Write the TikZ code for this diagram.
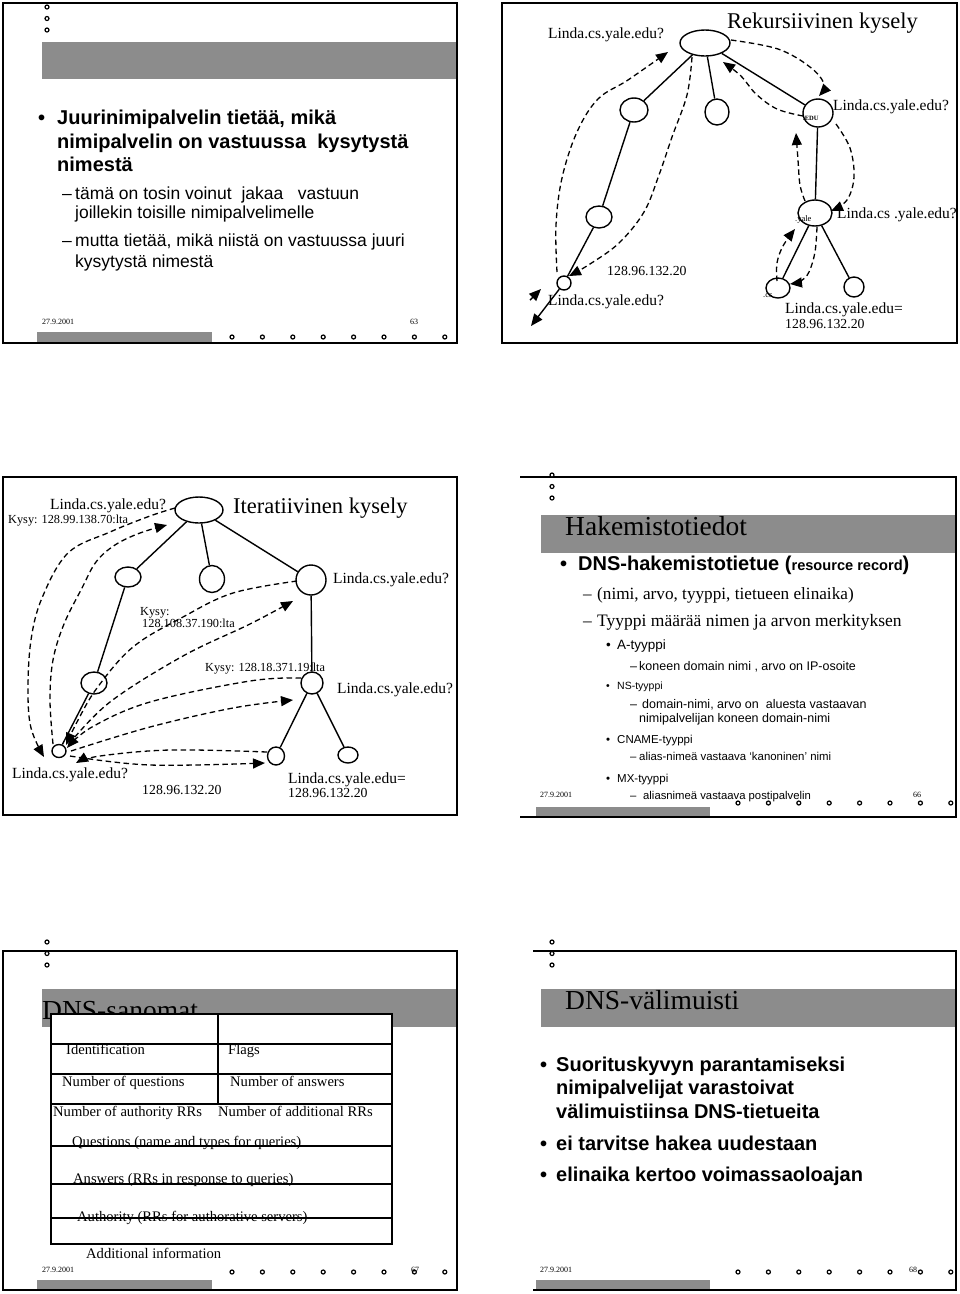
\documentclass[tikz,border=0pt]{standalone}
\usepackage{fontspec}
\setmainfont{Liberation Serif}
\newfontfamily\arial{Liberation Sans}
\usetikzlibrary{shapes.geometric,arrows.meta}
\definecolor{barg}{RGB}{140,140,140}
\newcommand\mydots[2]{\foreach \i in {0,...,7} \draw[sdot] ({#1+\i*30.4},#2) circle (2);}
\newcommand\topdots[2]{\foreach \j in {0,1,2} \draw[sdot] (#1,{#2+\j*11.5}) circle (2);}
\begin{document}
\begin{tikzpicture}[x=1pt,y=-1pt,
 frame/.style={line width=1.4pt},
 sdot/.style={draw, fill=white, line width=1.2pt},
 tx/.style={inner sep=0, anchor=base west},
 nd/.style={draw, ellipse, inner sep=0, line width=1.4pt},
 edge/.style={line width=1.4pt},
 dsh/.style={line width=1.3pt, dash pattern=on 5.5pt off 3.5pt},
 arrtip/.style={-{Triangle[length=12pt,width=10pt]}},
 lbl/.style={tx, font=\fontsize{15.5}{18}\selectfont},
 num/.style={tx, font=\fontsize{13.8}{16}\selectfont},
 kys/.style={tx, font=\fontsize{12.3}{14}\selectfont},
 foot/.style={tx, font=\fontsize{8}{9}\selectfont},
 ttl/.style={tx, font=\fontsize{27.5}{30}\selectfont},
 big/.style={tx, font=\arial\bfseries\fontsize{20}{24}\selectfont},
 mid/.style={tx, font=\arial\fontsize{17.5}{20}\selectfont},
 tab/.style={tx, font=\fontsize{14.6}{17}\selectfont},
]
\useasboundingbox (0,0) rectangle (960,1294);
\fill[white] (0,0) rectangle (960,1294);

% ================= Slide 1 =================
\fill[barg] (42,42) rectangle (457,79);
\fill[barg] (37,332) rectangle (212,343);
\draw[frame] (3,3) rectangle (457,343);
\topdots{47}{7}
\mydots{232}{337}
\node[big] (s1bul) at (38,124) {•};
\node[big] (s1l1) at (57,124) {Juurinimipalvelin tietää, mikä};
\node[big] (s1l2) at (57,148) {nimipalvelin on vastuussa\ \ kysytystä};
\node[big] (s1l3) at (57,171) {nimestä};
\node[mid] (s1d1) at (62,199) {–};
\node[mid] (s1l4) at (75,199) {tämä on tosin voinut\ \ jakaa\ \ \ vastuun};
\node[mid] (s1l5) at (75,218) {joillekin toisille nimipalvelimelle};
\node[mid] (s1d2) at (62,246) {–};
\node[mid] (s1l6) at (75,246) {mutta tietää, mikä niistä on vastuussa juuri};
\node[mid] (s1l7) at (75,267) {kysytystä nimestä};
\node[foot] (s1f) at (42,324) {27.9.2001};
\node[foot] (s1n) at (410,324) {63};

% ================= Slide 2 =================
\draw[frame] (502,3) rectangle (957,343);
\node[tx, font=\fontsize{22.5}{25}\selectfont] (t2) at (727,28) {Rekursiivinen kysely};
\node[nd, minimum width=50pt, minimum height=26pt] (r2) at (705,43) {};
\node[nd, minimum width=28pt, minimum height=24pt] (a2) at (634,110) {};
\node[nd, minimum width=24pt, minimum height=26pt] (b2) at (717,112) {};
\node[nd, minimum width=30pt, minimum height=28pt] (edu) at (818,113) {};
\node[nd, minimum width=26pt, minimum height=22pt] (c2) at (599,217) {};
\node[nd, minimum width=14pt, minimum height=14pt] (cl2) at (564,283) {};
\node[nd, minimum width=34pt, minimum height=26pt] (yale) at (815,213) {};
\node[nd, minimum width=24pt, minimum height=20pt] (cs) at (778,288) {};
\node[nd, minimum width=20pt, minimum height=20pt] (o2) at (854,287) {};
\draw[edge] (r2) -- (a2);
\draw[edge] (r2) -- (b2);
\draw[edge] (r2) -- (edu);
\draw[edge] (a2) -- (c2);
\draw[edge] (c2) -- (cl2);
\draw[edge] (edu) -- (yale);
\draw[edge] (yale) -- (cs);
\draw[edge] (yale) -- (o2);
\node[tx, font=\bfseries\fontsize{6.5}{7}\selectfont] (edut) at (803,120) {.EDU};
\node[tx, font=\fontsize{8.5}{9}\selectfont] (yalet) at (795,221) {.yale};
\node[tx, font=\fontsize{8.5}{9}\selectfont] (cst) at (763,297) {.cs};
\coordinate (q1) at (531,326);
\coordinate (q2) at (530,300);
\coordinate (q3) at (541,289);
\draw[edge, arrtip] (cl2) -- (q1);
\draw[edge, arrtip] (q2) -- (q3);
\coordinate (k1) at (668,52);
\coordinate (k2) at (569,276);
\coordinate (k3) at (819,96);
\coordinate (k4) at (723,62);
\coordinate (k5) at (831,211);
\coordinate (k6) at (796,133);
\coordinate (k7) at (795,229);
\coordinate (k8) at (790,284);
\draw[dsh,arrtip] plot[smooth,tension=0.6] coordinates {(557,272) (556,225) (562,178) (577,132) (598,99) (628,80) (k1)};
\draw[dsh,arrtip] plot[smooth,tension=0.6] coordinates {(692,57) (687,95) (672,137) (659,175) (644,212) (619,243) (590,264) (k2)};
\draw[dsh,arrtip] plot[smooth,tension=0.6] coordinates {(731,40) (778,49) (810,67) (824,84) (k3)};
\draw[dsh,arrtip] plot[smooth,tension=0.6] coordinates {(803,116) (777,109) (756,94) (741,76) (k4)};
\draw[dsh,arrtip] plot[smooth,tension=0.6] coordinates {(836,124) (850,148) (854,177) (847,200) (k5)};
\draw[dsh,arrtip] plot[smooth,tension=0.6] coordinates {(805,201) (800,185) (798,160) (k6)};
\draw[dsh,arrtip] plot[smooth,tension=0.6] coordinates {(777,281) (777,263) (783,246) (k7)};
\draw[dsh,arrtip] plot[smooth,tension=0.6] coordinates {(817,227) (815,252) (809,272) (801,281) (k8)};
\node[lbl] (l21) at (548,38) {Linda.cs.yale.edu?};
\node[lbl] (l22) at (833,110) {Linda.cs.yale.edu?};
\node[lbl] (l23) at (837,218) {Linda.cs .yale.edu?};
\node[num] (l24) at (607,275) {128.96.132.20};
\node[lbl] (l25) at (548,305) {Linda.cs.yale.edu?};
\node[lbl] (l26) at (785,313) {Linda.cs.yale.edu=};
\node[num] (l27) at (785,328) {128.96.132.20};

% ================= Slide 3 =================
\draw[frame] (3,477) rectangle (457,815);
\node[tx, font=\fontsize{22.5}{25}\selectfont] (t3) at (233,513) {Iteratiivinen kysely};
\node[nd, minimum width=48pt, minimum height=26pt] (r3) at (199,510) {};
\node[nd, minimum width=26pt, minimum height=20pt] (a3) at (128,577) {};
\node[nd, minimum width=25pt, minimum height=27pt] (b3) at (212,579) {};
\node[nd, minimum width=30pt, minimum height=30pt] (e3) at (311,580) {};
\node[nd, minimum width=26pt, minimum height=22pt] (c3) at (94,683) {};
\node[nd, minimum width=14pt, minimum height=13pt] (cl3) at (59,751) {};
\node[nd, minimum width=22pt, minimum height=22pt] (y3) at (312,683) {};
\node[nd, minimum width=17pt, minimum height=18pt] (cs3) at (276,756) {};
\node[nd, minimum width=20pt, minimum height=16pt] (o3) at (348,755) {};
\draw[edge] (r3) -- (a3);
\draw[edge] (r3) -- (b3);
\draw[edge] (r3) -- (e3);
\draw[edge] (a3) -- (c3);
\draw[edge] (c3) -- (cl3);
\draw[edge] (e3) -- (y3);
\draw[edge] (y3) -- (cs3);
\draw[edge] (y3) -- (o3);
\coordinate (k9) at (44,757);
\coordinate (k10) at (167,525);
\coordinate (k11) at (66,745);
\coordinate (k12) at (293,601);
\coordinate (k13) at (67,748);
\coordinate (k14) at (293,700);
\coordinate (k15) at (76,763);
\coordinate (k16) at (265,763);
\draw[dsh,arrtip] plot[smooth,tension=0.6] coordinates {(175,508) (150,516) (110,532) (68,553) (42,598) (31,640) (28,690) (31,728) (k9)};
\draw[dsh,arrtip] plot[smooth,tension=0.6] coordinates {(53,744) (50,700) (53,660) (64,624) (82,588) (96,562) (115,545) (140,533) (k10)};
\draw[dsh,arrtip] plot[smooth,tension=0.6] coordinates {(297,581) (233,593) (183,617) (133,647) (97,688) (77,722) (k11)};
\draw[dsh,arrtip] plot[smooth,tension=0.6] coordinates {(69,744) (110,702) (183,656) (250,624) (k12)};
\draw[dsh,arrtip] plot[smooth,tension=0.6] coordinates {(301,678) (250,681) (150,702) (92,727) (k13)};
\draw[dsh,arrtip] plot[smooth,tension=0.6] coordinates {(71,751) (150,727) (233,708) (k14)};
\draw[dsh,arrtip] plot[smooth,tension=0.6] coordinates {(267,752) (170,750) (100,756) (k15)};
\draw[dsh,arrtip] plot[smooth,tension=0.6] coordinates {(70,756) (150,765) (k16)};
\node[lbl] (l31) at (50,509) {Linda.cs.yale.edu?};
\node[kys] (l32) at (8,523) {Kysy: 128.99.138.70:lta};
\node[lbl] (l33) at (333,583) {Linda.cs.yale.edu?};
\node[kys] (l34) at (140,615) {Kysy:};
\node[kys] (l35) at (142,627) {128.108.37.190:lta};
\node[kys] (l36) at (205,671) {Kysy: 128.18.371.19:lta};
\node[lbl] (l37) at (337,693) {Linda.cs.yale.edu?};
\node[lbl] (l38) at (12,778) {Linda.cs.yale.edu?};
\node[num] (l39) at (142,794) {128.96.132.20};
\node[lbl] (l310) at (288,783) {Linda.cs.yale.edu=};
\node[num] (l311) at (288,797) {128.96.132.20};

% ================= Slide 4 =================
\fill[barg] (541,515) rectangle (956,553);
\fill[barg] (536,807) rectangle (710,817);
\draw[frame] (520,477) -- (956,477) -- (956,817) -- (520,817);
\topdots{552}{475}
\mydots{738}{803}
\node[tx, font=\fontsize{27.5}{30}\selectfont] (t4) at (565,535) {Hakemistotiedot};
\node[big] (s4b) at (560,570) {•};
\node[big] (s4l1) at (578,570) {DNS-hakemistotietue (\fontsize{14.6}{16}\selectfont resource record\fontsize{20}{24}\selectfont)};
\node[tx, font=\fontsize{17.2}{20}\selectfont] (s4d1) at (583,599) {–};
\node[tx, font=\fontsize{17.2}{20}\selectfont] (s4l2) at (597,599) {(nimi, arvo, tyyppi, tietueen elinaika)};
\node[tx, font=\fontsize{17.5}{20}\selectfont] (s4d2) at (583,626) {–};
\node[tx, font=\fontsize{17.5}{20}\selectfont] (s4l3) at (597,626) {Tyyppi määrää nimen ja arvon merkityksen};
\node[tx, font=\arial\fontsize{13.5}{16}\selectfont] (s4b1) at (606,649) {•};
\node[tx, font=\arial\fontsize{13.5}{16}\selectfont] (s4l4) at (617,649) {A-tyyppi};
\node[tx, font=\arial\fontsize{12.5}{15}\selectfont] (s4d3) at (630,670) {–};
\node[tx, font=\arial\fontsize{12.5}{15}\selectfont] (s4l5) at (639,670) {koneen domain nimi , arvo on IP-osoite};
\node[tx, font=\arial\fontsize{10.5}{13}\selectfont] (s4b2) at (606,689) {•};
\node[tx, font=\arial\fontsize{10.5}{13}\selectfont] (s4l6) at (617,689) {NS-tyyppi};
\node[tx, font=\arial\fontsize{12.5}{15}\selectfont] (s4d4) at (630,708) {–};
\node[tx, font=\arial\fontsize{12.5}{15}\selectfont] (s4l7) at (642,708) {domain-nimi, arvo on\ \ aluesta vastaavan};
\node[tx, font=\arial\fontsize{12.5}{15}\selectfont] (s4l8) at (639,722) {nimipalvelijan koneen domain-nimi};
\node[tx, font=\arial\fontsize{11.5}{14}\selectfont] (s4b3) at (606,743) {•};
\node[tx, font=\arial\fontsize{11.5}{14}\selectfont] (s4l9) at (617,743) {CNAME-tyyppi};
\node[tx, font=\arial\fontsize{11.4}{14}\selectfont] (s4d5) at (630,760) {–};
\node[tx, font=\arial\fontsize{11.4}{14}\selectfont] (s4l10) at (639,760) {alias-nimeä vastaava ‘kanoninen’ nimi};
\node[tx, font=\arial\fontsize{11.5}{14}\selectfont] (s4b4) at (606,782) {•};
\node[tx, font=\arial\fontsize{11.5}{14}\selectfont] (s4l11) at (617,782) {MX-tyyppi};
\node[tx, font=\arial\fontsize{11.3}{14}\selectfont] (s4d6) at (630,799) {–};
\node[tx, font=\arial\fontsize{11.3}{14}\selectfont] (s4l12) at (643,799) {aliasnimeä vastaava postipalvelin};
\node[foot] (s4f) at (540,797) {27.9.2001};
\node[foot] (s4n) at (913,797) {66};

% ================= Slide 5 =================
\fill[barg] (42,989) rectangle (457,1027);
\fill[barg] (37,1280) rectangle (212,1290);
\draw[frame] (3,951) rectangle (457,1290);
\topdots{47}{942}
\mydots{232}{1272}
\node[ttl] (t5) at (42,1019) {DNS-sanomat};
\draw[line width=1.3pt, fill=white] (51,1014) rectangle (392,1244);
\draw[line width=1.3pt] (51,1044) -- (392,1044);
\draw[line width=1.3pt] (51,1074) -- (392,1074);
\draw[line width=1.3pt] (51,1104) -- (392,1104);
\draw[line width=1.3pt] (51,1146) -- (392,1146);
\draw[line width=1.3pt] (51,1184) -- (392,1184);
\draw[line width=1.3pt] (51,1218) -- (392,1218);
\draw[line width=1.3pt] (218,1014) -- (218,1104);
\node[tab] (m1) at (66,1054) {Identification};
\node[tab] (m2) at (228,1054) {Flags};
\node[tab] (m3) at (62,1086) {Number of questions};
\node[tab] (m4) at (230,1086) {Number of answers};
\node[tab] (m5) at (53,1116) {Number of authority RRs};
\node[tab] (m6) at (218,1116) {Number of additional RRs};
\node[tab] (m7) at (72,1146) {Questions (name and types for queries)};
\node[tab] (m8) at (73,1183) {Answers (RRs in response to queries)};
\node[tab] (m9) at (77,1221) {Authority (RRs for authorative servers)};
\node[tab] (m10) at (86,1258) {Additional information};
\node[foot] (s5f) at (42,1272) {27.9.2001};
\node[foot] (s5n) at (411,1272) {67};

% ================= Slide 6 =================
\fill[barg] (541,989) rectangle (956,1027);
\fill[barg] (536,1280) rectangle (710,1290);
\draw[frame] (533,951) -- (956,951) -- (956,1290) -- (533,1290);
\topdots{552}{942}
\mydots{738}{1272}
\node[ttl] (t6) at (565,1009) {DNS-välimuisti};
\node[big] (s6b1) at (540,1071) {•};
\node[big] (s6l1) at (556,1071) {Suorituskyvyn parantamiseksi};
\node[big] (s6l2) at (556,1094) {nimipalvelijat varastoivat};
\node[big] (s6l3) at (556,1118) {välimuistiinsa DNS-tietueita};
\node[big] (s6b2) at (540,1150) {•};
\node[big] (s6l4) at (556,1150) {ei tarvitse hakea uudestaan};
\node[big] (s6b3) at (540,1181) {•};
\node[big] (s6l5) at (556,1181) {elinaika kertoo voimassaoloajan};
\node[foot] (s6f) at (540,1272) {27.9.2001};
\node[foot] (s6n) at (909,1272) {68};
\end{tikzpicture}
\end{document}
